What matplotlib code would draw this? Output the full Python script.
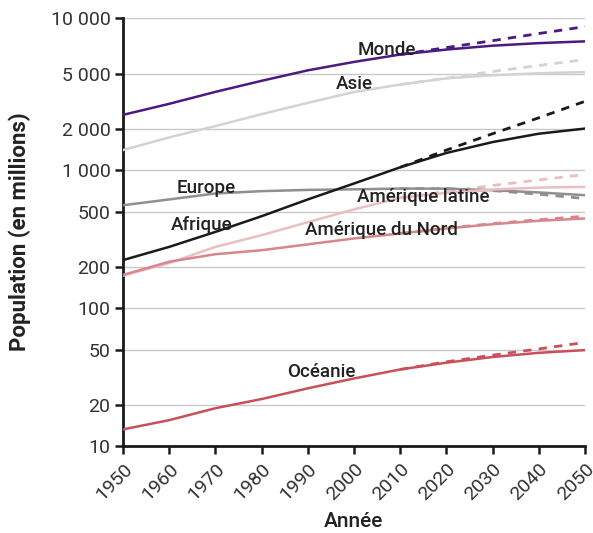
import numpy as np
import matplotlib
matplotlib.use('Agg')
import matplotlib.pyplot as plt
from matplotlib.ticker import FixedLocator, FixedFormatter, NullLocator

plt.rcParams['font.family'] = ['Roboto', 'DejaVu Sans']

# population in millions, observed 1950-2010 then two projections to 2050
years = [1950, 1960, 1970, 1980, 1990, 2000, 2010, 2020, 2030, 2040, 2050]
proj_years = [2010, 2020, 2030, 2040, 2050]

monde = [2520, 3030, 3700, 4450, 5300, 6100, 6900, 7500, 8000, 8350, 8600]
monde_high = [6900, 7750, 8700, 9800, 11000]
asie = [1400, 1730, 2090, 2550, 3080, 3690, 4180, 4640, 4880, 5050, 5150]
asie_high = [4180, 4650, 5200, 5750, 6340]
afrique = [223, 278, 357, 464, 614, 801, 1050, 1334, 1600, 1840, 2005]
afrique_high = [1050, 1400, 1840, 2400, 3160]
europe = [557, 614, 678, 705, 720, 727, 736, 735, 716, 690, 659]
europe_high = [736, 735, 712, 670, 623]
am_latine = [172, 212, 278, 338, 420, 520, 630, 685, 725, 748, 757]
am_latine_high = [630, 700, 775, 850, 931]
am_nord = [174, 217, 246, 263, 290, 320, 348, 378, 406, 430, 447]
am_nord_high = [348, 380, 410, 438, 464]
oceanie = [13.2, 15.4, 18.8, 21.9, 26.2, 30.9, 35.9, 40.2, 44.2, 47.4, 49.6]
oceanie_high = [35.9, 40.8, 45.6, 50.6, 56.4]

series = [
    ('Europe', europe, europe_high, '#8f8f93'),
    ('Asie', asie, asie_high, '#d3d3d3'),
    ('Amérique latine', am_latine, am_latine_high, '#ebbfc2'),
    ('Amérique du Nord', am_nord, am_nord_high, '#d7868c'),
    ('Océanie', oceanie, oceanie_high, '#c9505a'),
    ('Afrique', afrique, afrique_high, '#1a1a1a'),
    ('Monde', monde, monde_high, '#4b1a80'),
]

# label centres (year, value)
label_pos = {
    'Monde': (2007, 7400),
    'Asie': (2000, 4200),
    'Europe': (1968, 741),
    'Afrique': (1967, 399),
    'Amérique latine': (2015, 637),
    'Amérique du Nord': (2006, 367),
    'Océanie': (1993, 34.4),
}

y_ticks = [10, 20, 50, 100, 200, 500, 1000, 2000, 5000, 12700]
y_tick_labels = ['10', '20', '50', '100', '200', '500', '1 000', '2 000', '5 000', '10 000']
x_ticks = list(range(1950, 2051, 10))

fig = plt.figure(figsize=(5.93, 5.33), dpi=100)
ax = fig.add_axes([0.2074, 0.1632, 0.7791, 0.8030])

for name, obs, high, col in series:
    ax.plot(proj_years, high, color=col, lw=2.0, ls=(0, (3, 2.6)), solid_capstyle='butt', zorder=3)
    ax.plot(years, obs, color=col, lw=1.8, zorder=4)

for name, (lx, ly) in label_pos.items():
    ax.text(lx, ly, name, fontsize=13.5, fontweight='medium', color='#222222',
            ha='center', va='center', zorder=6)

ax.set_yscale('log')
ax.set_xlim(1950, 2050)
ax.set_ylim(10, 12700)
ax.yaxis.set_major_locator(FixedLocator(y_ticks))
ax.yaxis.set_major_formatter(FixedFormatter(y_tick_labels))
ax.yaxis.set_minor_locator(NullLocator())
ax.set_xticks(x_ticks)
ax.set_xticklabels([str(x) for x in x_ticks], rotation=45, ha='right', rotation_mode='anchor')

ax.grid(axis='y', color='#c8c8cc', lw=1.0, zorder=0)
ax.set_axisbelow(True)
for side in ['top', 'right']:
    ax.spines[side].set_visible(False)
for side in ['left', 'bottom']:
    ax.spines[side].set_linewidth(2.0)
    ax.spines[side].set_color('#1a1a1a')
ax.tick_params(axis='both', length=6, width=1.8, color='#1a1a1a', labelsize=14,
               labelcolor='#333333', pad=3)
ax.tick_params(axis='x', pad=4)

ax.set_ylabel('Population (en millions)', fontsize=16, fontweight='bold', color='#222222', labelpad=14)
ax.set_xlabel('Année', fontsize=15, fontweight='medium', color='#222222', labelpad=6)

fig.savefig('out.png', dpi=100)
